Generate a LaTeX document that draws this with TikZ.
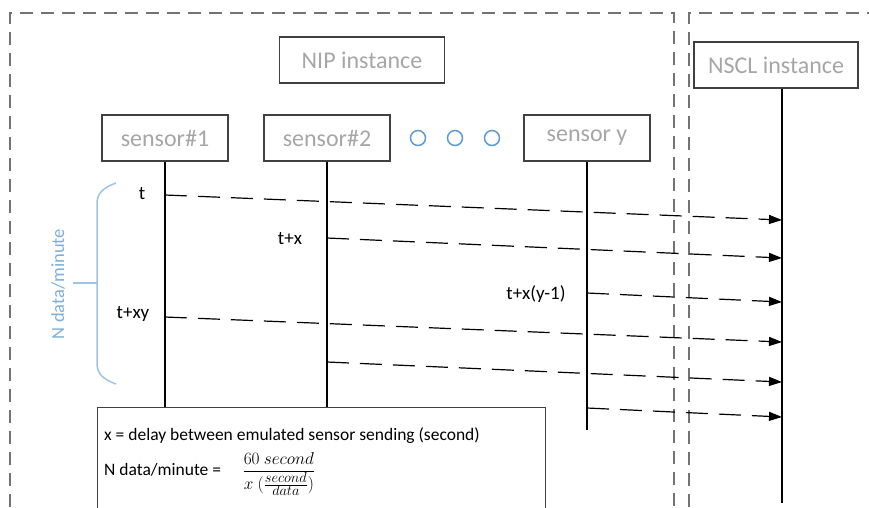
\documentclass[tikz,border=0pt]{standalone}
\usepackage{fontspec}
\setmainfont{Carlito}
\usetikzlibrary{arrows.meta}
\definecolor{boxtext}{HTML}{A6A6A6}
\definecolor{bracecol}{HTML}{9DC3E6}
\definecolor{dotcol}{HTML}{5B9BD5}
\tikzstyle{node_box} = [draw=black!75, line width=1.3pt, minimum height=46pt, inner sep=0pt, text=boxtext, font=\fontsize{24}{28}\selectfont]
\tikzstyle{node_sensor} = [node_box, minimum width=126pt]
\tikzstyle{node_dot} = [circle, draw=dotcol, line width=1.5pt, inner sep=0pt, minimum size=15pt]
\tikzstyle{node_label} = [inner sep=0pt, font=\fontsize{19}{22}\selectfont]
\tikzstyle{node_legend} = [inner sep=0pt, anchor=west, font=\fontsize{17.5}{21}\selectfont]
\tikzstyle{edge_life} = [line width=2pt]
\tikzstyle{edge_msg} = [line width=1.2pt, dash pattern=on 22pt off 11pt, -{Triangle[length=13pt,width=9pt]}]
\tikzstyle{frame_dashed} = [draw=black!55, line width=1.5pt, dash pattern=on 13pt off 8pt]

\begin{document}
\begin{tikzpicture}[x=1pt,y=-1pt]
\useasboundingbox (0,0) rectangle (869,507);
% frames of the two instances
\draw[frame_dashed] (10,507) -- (10,13) -- (674,13) -- (674,507);
\draw[frame_dashed] (689,507) -- (689,13) -- (869,13);

\node (NIP) at (362,60) [node_box, minimum width=165pt] {NIP instance};
\node (NSCL) at (776,65) [node_box, minimum width=164pt] {NSCL instance};
\node (S1) at (165,138) [node_sensor] {sensor\#1};
\node (S2) at (327,138) [node_sensor] {sensor\#2};
\node (SY) at (587,138) [node_sensor] {sensor y};
\node (D1) at (418,138) [node_dot] {};
\node (D2) at (455,138) [node_dot] {};
\node (D3) at (492,138) [node_dot] {};

% lifelines
\coordinate (S1end) at (165,407);
\coordinate (S2end) at (327,407);
\coordinate (SYend) at (587,430);
\coordinate (NSCLend) at (782,503);
\draw[edge_life] (S1)--(S1end) (S2)--(S2end) (SY)--(SYend);
\draw[edge_life] (NSCL.south -| NSCLend)--(NSCLend);

% send times
\coordinate (M1a) at (165,195); \coordinate (M1b) at (782,220);
\coordinate (M2a) at (327,238); \coordinate (M2b) at (782,258);
\coordinate (M3a) at (587,293); \coordinate (M3b) at (782,302);
\coordinate (M4a) at (165,317); \coordinate (M4b) at (782,342);
\coordinate (M5a) at (327,362); \coordinate (M5b) at (782,382);
\coordinate (M6a) at (587,408); \coordinate (M6b) at (782,417);
\draw[edge_msg] (M1a)--(M1b);
\draw[edge_msg] (M2a)--(M2b);
\draw[edge_msg] (M3a)--(M3b);
\draw[edge_msg] (M4a)--(M4b);
\draw[edge_msg] (M5a)--(M5b);
\draw[edge_msg] (M6a)--(M6b);

\node (T1) at (142,194) [node_label] {t};
\node (T2) at (290,239) [node_label] {t+x};
\node (T3) at (536,294) [node_label] {t+x(y-1)};
\node (T4) at (133,314) [node_label] {t+xy};

% brace over one minute
\draw[bracecol, line width=1.5pt] (116,183) .. controls (102,188) and (97,194) .. (97,204)
  -- (97,363) .. controls (97,373) and (102,379) .. (116,384);
\draw[bracecol, line width=1.5pt] (97,283) -- (73,283);
\node (NM) at (58,284) [inner sep=0pt, rotate=90, text=dotcol!80, font=\fontsize{18.5}{22}\selectfont] {N data/minute};

% legend
\node (LG) at (97,407) [draw=black!75, line width=1.3pt, anchor=north west, minimum width=448pt, minimum height=110pt] {};
\node (LX) at (104,436) [node_legend] {x = delay between emulated sensor sending (second)};
\node (LN) at (104,474) [node_legend] {N data/minute = \quad{\fontsize{19}{22}\selectfont$\displaystyle\frac{60\ second}{x\ (\frac{second}{data})}$}};
\end{tikzpicture}
\end{document}
